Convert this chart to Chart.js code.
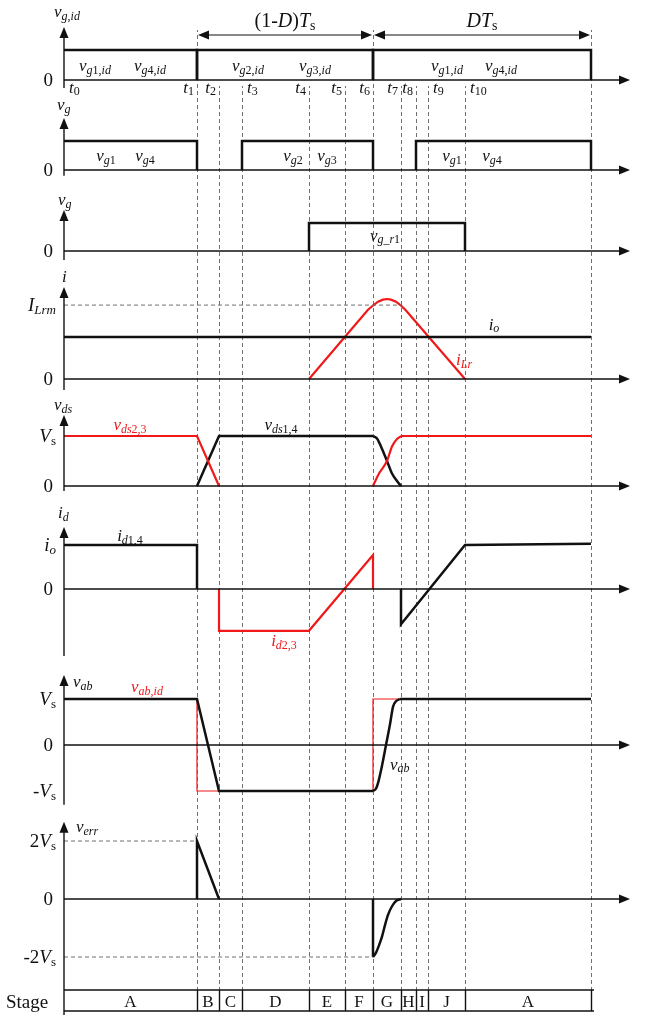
<!DOCTYPE html>
<html>
<head>
<meta charset="utf-8">
<script src="https://cdn.jsdelivr.net/npm/chart.js@4.4.1/dist/chart.umd.min.js"></script>
<style>
    body { margin: 0; background: #fff; }
    #wrap { position: relative; width: 649px; height: 1024px; overflow: hidden; }
    #wrap canvas { position: absolute; left: 0; }
</style>
</head>
<body>
<div id="wrap"></div>
<script>
// time instants t0..t10 and end of period (x axis units, t0 = 0)
const tPos = [0, 133, 155, 178, 245, 281, 309, 337, 352, 364, 401];
const tEnd = 527;
const tNames = ['0', '1', '2', '3', '4', '5', '6', '7', '8', '9', '10'];
const tSide = ['R', 'L', 'L', 'R', 'L', 'L', 'L', 'L', 'L', 'R', 'R'];
const stageNames = ['A', 'B', 'C', 'D', 'E', 'F', 'G', 'H', 'I', 'J', 'A'];

// ideal gate signals
const vg14IdOn1 = [[0, 1], [133, 1], [133, 0]];
const vg23IdOn = [[133, 0], [133, 1], [309, 1], [309, 0]];
const vg14IdOn2 = [[309, 0], [309, 1], [527, 1], [527, 0]];
// real gate signals
const vg14On1 = [[0, 1], [133, 1], [133, 0]];
const vg23On = [[178, 0], [178, 1], [309, 1], [309, 0]];
const vg14On2 = [[352, 0], [352, 1], [527, 1], [527, 0]];
const vgr1On = [[245, 0], [245, 1], [401, 1], [401, 0]];
// currents i (io = 1)
const ioLevel = [[0, 1], [527, 1]];
const iLrmLevel = [[0, 1.76], [337, 1.76]];
const iLr = [[245, 0], [304, 1.65], [309, 1.75], [314, 1.84], [319, 1.89], [323, 1.905], [327, 1.89], [332, 1.84], [337, 1.75], [342, 1.63], [401, 0]];
// drain-source voltages (Vs = 1)
const vds14Lin = [[133, 0], [155, 1], [309, 1]];
const vds14Fall = [[309, 1], [313, 0.95], [317, 0.79], [323, 0.5], [328, 0.25], [333, 0.1], [337, 0]];
const vds23Lin1 = [[0, 1], [133, 1], [155, 0]];
const vds23Rise = [[309, 0], [312, 0.13], [315, 0.25], [323, 0.5], [328, 0.79], [333, 0.94], [338, 1]];
const vds23Lin2 = [[338, 1], [527, 1]];
// diode currents
const id14a = [[0, 1], [133, 1], [133, 0]];
const id14b = [[337, 0], [337, -0.8], [401, 1], [527, 1.03]];
const id23 = [[155, 0], [155, -0.95], [245, -0.95], [309, 0.77], [309, 0]];
// bridge voltage
const vabId = [[0, 1], [133, 1], [133, -1], [309, -1], [309, 1], [527, 1]];
const vabLin1 = [[0, 1], [133, 1], [155, -1], [309, -1]];
const vabRise = [[309, -1], [312, -0.95], [314, -0.83], [318, -0.45], [322, 0], [326, 0.45], [329, 0.83], [332, 0.95], [336, 1]];
const vabLin2 = [[336, 1], [527, 1]];
// error voltage
const verrA = [[133, 0], [133, 2], [155, 0]];
const verrB = [[309, 0], [309, -2]];
const verrRise = [[309, -2], [312, -1.85], [315, -1.6], [318, -1.3], [321, -0.9], [324, -0.55], [328, -0.25], [332, -0.07], [337, 0]];
const verrPos = [[0, 2], [133, 2]];
const verrNeg = [[0, -2], [309, -2]];

const SERIF = '"Liberation Serif", "DejaVu Serif", serif';
const INK = '#111111';
const RED = '#f01818';
const DASH = '#707070';

const fontFor = (kind, size) => {
    const sub = kind[0] === 's';
    const px = sub ? Math.round(size * 0.7) : size;
    return (kind.endsWith('i') ? 'italic ' : '') + px + 'px ' + SERIF;
};

// main letter italic, subscript letters italic, digits upright
const sym = (main, sub, subRoman) => {
    const runs = [[main, 'i']];
    for (const ch of sub || '') {
        const k = subRoman || /[0-9,_]/.test(ch) ? 'sr' : 'si';
        const last = runs[runs.length - 1];
        if (last[1] === k) last[0] += ch; else runs.push([ch, k]);
    }
    return runs;
};
const Vs = pre => (pre ? [[pre, 'r']] : []).concat(sym('V', 's', true));

const drawRich = (ctx, x, y, runs, size, color, align) => {
    let w = 0;
    runs.forEach(([s, k]) => { ctx.font = fontFor(k, size); w += ctx.measureText(s).width; });
    let cx = align === 'center' ? x - w / 2 : align === 'right' ? x - w : x;
    ctx.save();
    ctx.fillStyle = color;
    ctx.textAlign = 'left';
    ctx.textBaseline = 'alphabetic';
    runs.forEach(([s, k]) => {
        ctx.font = fontFor(k, size);
        ctx.fillText(s, cx, y + (k[0] === 's' ? size * 0.15 : 0));
        cx += ctx.measureText(s).width;
    });
    ctx.restore();
};

const tri = (ctx, pts) => {
    ctx.beginPath();
    ctx.moveTo(pts[0], pts[1]);
    ctx.lineTo(pts[2], pts[3]);
    ctx.lineTo(pts[4], pts[5]);
    ctx.closePath();
    ctx.fill();
};

const trace = (pts, color, width, extra) => Object.assign({
    data: pts.map(([x, y]) => ({ x, y })),
    borderColor: color,
    borderWidth: width,
    pointRadius: 0,
    pointHoverRadius: 0,
    tension: 0,
    fill: false,
    borderJoinStyle: 'miter',
    borderCapStyle: 'butt',
    clip: false
}, extra || {});
const smooth = { cubicInterpolationMode: 'monotone' };
const dashed = { borderDash: [4, 3] };

const tLabels = tPos.map((t, i) => ({
    x: tSide[i] === 'R' ? t + 5 : t - 3,
    y: -0.43,
    runs: [['t', 'i'], [tNames[i], 'sr']],
    align: tSide[i] === 'R' ? 'left' : 'right'
}));

const panels = [
    {
        band: [0, 97], zero: 80, unit: 30, yAxis: [-0.27, 1.77], dashFrom: 86, tallFrom: 30,
        sets: [trace(vg14IdOn1, INK, 2.5), trace(vg23IdOn, INK, 2.5), trace(vg14IdOn2, INK, 2.5)],
        name: { x: -10, y: 2.1, runs: sym('v', 'g,id') },
        ticks: [{ v: 0, runs: [['0', 'r']], x: -11 }],
        labels: tLabels.concat([
            { x: 31, y: 0.3, runs: sym('v', 'g1,id') },
            { x: 86, y: 0.3, runs: sym('v', 'g4,id') },
            { x: 184, y: 0.3, runs: sym('v', 'g2,id') },
            { x: 251, y: 0.3, runs: sym('v', 'g3,id') },
            { x: 383, y: 0.3, runs: sym('v', 'g1,id') },
            { x: 437, y: 0.3, runs: sym('v', 'g4,id') },
            { x: 221, y: 1.78, size: 20, runs: [['(1-', 'r'], ['D', 'i'], [')', 'r'], ['T', 'i'], ['s', 'sr']] },
            { x: 418, y: 1.78, size: 20, runs: [['D', 'i'], ['T', 'i'], ['s', 'sr']] }
        ]),
        spans: [{ a: 133, b: 309, y: 1.5 }, { a: 309, b: 527, y: 1.5 }]
    },
    {
        band: [97, 187], zero: 170, unit: 29, yAxis: [-0.2, 1.79],
        sets: [trace(vg14On1, INK, 2.5), trace(vg23On, INK, 2.5), trace(vg14On2, INK, 2.5)],
        name: { x: -7, y: 2.07, runs: sym('v', 'g') },
        ticks: [{ v: 0, runs: [['0', 'r']], x: -11 }],
        labels: [
            { x: 42, y: 0.31, runs: sym('v', 'g1') },
            { x: 81, y: 0.31, runs: sym('v', 'g4') },
            { x: 229, y: 0.31, runs: sym('v', 'g2') },
            { x: 263, y: 0.31, runs: sym('v', 'g3') },
            { x: 388, y: 0.31, runs: sym('v', 'g1') },
            { x: 428, y: 0.31, runs: sym('v', 'g4') }
        ]
    },
    {
        band: [187, 263], zero: 251, unit: 28, yAxis: [-0.32, 1.46],
        sets: [trace(vgr1On, INK, 2.5)],
        name: { x: -6, y: 1.64, runs: sym('v', 'g') },
        ticks: [{ v: 0, runs: [['0', 'r']], x: -11 }],
        labels: [{ x: 321, y: 0.36, runs: sym('v', 'g_r1') }]
    },
    {
        band: [263, 393], zero: 379, unit: 42, yAxis: [-0.26, 2.19],
        sets: [trace(iLrmLevel, DASH, 1, dashed), trace(ioLevel, INK, 2.5), trace(iLr, RED, 2.2)],
        name: { x: -2, y: 2.31, runs: sym('i') },
        ticks: [{ v: 0, runs: [['0', 'r']], x: -11 }, { v: 1.76, runs: sym('I', 'Lrm'), x: -8 }],
        labels: [
            { x: 430, y: 1.17, runs: sym('i', 'o') },
            { x: 392, y: 0.33, runs: sym('i', 'Lr'), color: RED, align: 'left' }
        ]
    },
    {
        band: [393, 499], zero: 486, unit: 50, yAxis: [-0.1, 1.42],
        sets: [trace(vds23Lin1, RED, 2.2), trace(vds23Rise, RED, 2.2, smooth), trace(vds23Lin2, RED, 2.2),
            trace(vds14Lin, INK, 2.5), trace(vds14Fall, INK, 2.5, smooth)],
        name: { x: -10, y: 1.52, runs: sym('v', 'ds') },
        ticks: [{ v: 0, runs: [['0', 'r']], x: -11 }, { v: 1, runs: Vs(), x: -8 }],
        labels: [
            { x: 66, y: 1.12, runs: sym('v', 'ds2,3'), color: RED },
            { x: 217, y: 1.12, runs: sym('v', 'ds1,4') }
        ]
    },
    {
        band: [499, 662], zero: 589, unit: 44, yAxis: [-1.52, 1.41],
        sets: [trace(id23, RED, 2.2), trace(id14a, INK, 2.5), trace(id14b, INK, 2.5)],
        name: { x: -6, y: 1.61, runs: sym('i', 'd') },
        ticks: [{ v: 0, runs: [['0', 'r']], x: -11 }, { v: 1, runs: sym('i', 'o'), x: -8 }],
        labels: [
            { x: 66, y: 1.08, runs: sym('i', 'd1,4') },
            { x: 220, y: -1.3, runs: sym('i', 'd2,3'), color: RED }
        ]
    },
    {
        band: [662, 814], zero: 745, unit: 46, yAxis: [-1.3, 1.52],
        sets: [trace(vabLin1, INK, 2.5), trace(vabRise, INK, 2.5, smooth), trace(vabLin2, INK, 2.5),
            trace(vabId, RED, 1.2)],
        name: { x: 9, y: 1.26, runs: sym('v', 'ab') },
        ticks: [{ v: 0, runs: [['0', 'r']], x: -11 }, { v: 1, runs: Vs(), x: -8 }, { v: -1, runs: Vs('-'), x: -8 }],
        labels: [
            { x: 83, y: 1.15, runs: sym('v', 'ab,id'), color: RED },
            { x: 326, y: -0.54, runs: sym('v', 'ab'), align: 'left' }
        ]
    },
    {
        band: [814, 1024], zero: 899, unit: 29, yAxis: [-4.0, 2.66], dashTo: 990,
        sets: [trace(verrPos, DASH, 1, dashed), trace(verrNeg, DASH, 1, dashed),
            trace(verrA, INK, 2.5), trace(verrB, INK, 2.5), trace(verrRise, INK, 2.5, smooth)],
        name: { x: 12, y: 2.31, runs: sym('v', 'err') },
        ticks: [{ v: 0, runs: [['0', 'r']], x: -11 }, { v: 2, runs: Vs('2'), x: -8 }, { v: -2, runs: Vs('-2'), x: -8 }],
        labels: [{ x: -58, y: -3.76, runs: [['Stage', 'r']], size: 19, align: 'left' }],
        stage: { top: -3.14, bottom: -3.86, text: -3.72 }
    }
];

const panelDecor = (spec, cTop) => ({
    id: 'panelDecor',
    beforeDatasetsDraw(chart) {
        const { ctx, scales: { x } } = chart;
        ctx.save();
        ctx.strokeStyle = DASH;
        ctx.lineWidth = 1;
        ctx.setLineDash([4, 3]);
        tPos.slice(1).concat([tEnd]).forEach(t => {
            const tall = spec.tallFrom != null && (t === tPos[1] || t === tPos[6] || t === tEnd);
            const from = tall ? spec.tallFrom : (spec.dashFrom ?? spec.band[0]);
            const to = spec.dashTo ?? spec.band[1];
            const px = Math.round(x.getPixelForValue(t)) + 0.5;
            ctx.lineDashOffset = from % 7;
            ctx.beginPath();
            ctx.moveTo(px, from - cTop);
            ctx.lineTo(px, to - cTop);
            ctx.stroke();
        });
        ctx.restore();
    },
    afterDatasetsDraw(chart) {
        const { ctx, scales: { x, y } } = chart;
        const x0 = x.getPixelForValue(0);
        const xTip = x.getPixelForValue(x.max);
        const y0 = y.getPixelForValue(0);
        ctx.save();
        ctx.strokeStyle = INK;
        ctx.fillStyle = INK;
        ctx.lineWidth = 1.4;

        ctx.beginPath();
        ctx.moveTo(x0, y0);
        ctx.lineTo(xTip - 8, y0);
        ctx.stroke();
        tri(ctx, [xTip, y0, xTip - 11, y0 - 4.5, xTip - 11, y0 + 4.5]);

        const yb = y.getPixelForValue(spec.yAxis[0]);
        const yt = y.getPixelForValue(spec.yAxis[1]);
        ctx.beginPath();
        ctx.moveTo(x0, yb);
        ctx.lineTo(x0, yt + 8);
        ctx.stroke();
        tri(ctx, [x0, yt, x0 - 4.5, yt + 11, x0 + 4.5, yt + 11]);

        (spec.spans || []).forEach(s => {
            const a = x.getPixelForValue(s.a) + 1;
            const b = x.getPixelForValue(s.b) - 1;
            const py = y.getPixelForValue(s.y);
            ctx.lineWidth = 1;
            ctx.beginPath();
            ctx.moveTo(a + 8, py);
            ctx.lineTo(b - 8, py);
            ctx.stroke();
            tri(ctx, [a, py, a + 11, py - 4.5, a + 11, py + 4.5]);
            tri(ctx, [b, py, b - 11, py - 4.5, b - 11, py + 4.5]);
        });

        if (spec.stage) {
            const st = y.getPixelForValue(spec.stage.top);
            const sb = y.getPixelForValue(spec.stage.bottom);
            const edges = tPos.concat([tEnd]);
            ctx.lineWidth = 1.4;
            ctx.beginPath();
            ctx.moveTo(x0, st); ctx.lineTo(x.getPixelForValue(tEnd) + 3, st);
            ctx.moveTo(x0, sb); ctx.lineTo(x.getPixelForValue(tEnd) + 3, sb);
            edges.slice(1).forEach(t => {
                const px = Math.round(x.getPixelForValue(t)) + 0.5;
                ctx.moveTo(px, st); ctx.lineTo(px, sb);
            });
            ctx.stroke();
            stageNames.forEach((n, i) => {
                const cx = x.getPixelForValue((edges[i] + edges[i + 1]) / 2);
                drawRich(ctx, cx, y.getPixelForValue(spec.stage.text), [[n, 'r']], 17, INK, 'center');
            });
        }
        ctx.restore();

        drawRich(ctx, x.getPixelForValue(spec.name.x), y.getPixelForValue(spec.name.y), spec.name.runs, 17, INK, 'left');
        spec.ticks.forEach(t => {
            drawRich(ctx, x.getPixelForValue(t.x), y.getPixelForValue(t.v) + 6, t.runs, 19, INK, 'right');
        });
        spec.labels.forEach(l => {
            drawRich(ctx, x.getPixelForValue(l.x), y.getPixelForValue(l.y), l.runs, l.size || 17,
                l.color || INK, l.align || 'center');
        });
    }
});

const wrap = document.getElementById('wrap');
panels.forEach(spec => {
    const cTop = Math.max(0, spec.band[0] - 14);
    const cBot = Math.min(1024, spec.band[1] + 14);
    const H = cBot - cTop;
    const z = spec.zero - cTop;
    const canvas = document.createElement('canvas');
    canvas.width = 649;
    canvas.height = H;
    canvas.style.top = cTop + 'px';
    wrap.appendChild(canvas);
    new Chart(canvas, {
        type: 'line',
        data: { datasets: spec.sets },
        options: {
            responsive: false,
            animation: false,
            events: [],
            layout: { padding: { left: 64, right: 19, top: 0, bottom: 0 } },
            scales: {
                x: { type: 'linear', display: false, min: 0, max: 566 },
                y: { type: 'linear', display: false, min: -(H - z) / spec.unit, max: z / spec.unit }
            },
            plugins: { legend: { display: false }, tooltip: { enabled: false } }
        },
        plugins: [panelDecor(spec, cTop)]
    });
});
</script>
</body>
</html>
